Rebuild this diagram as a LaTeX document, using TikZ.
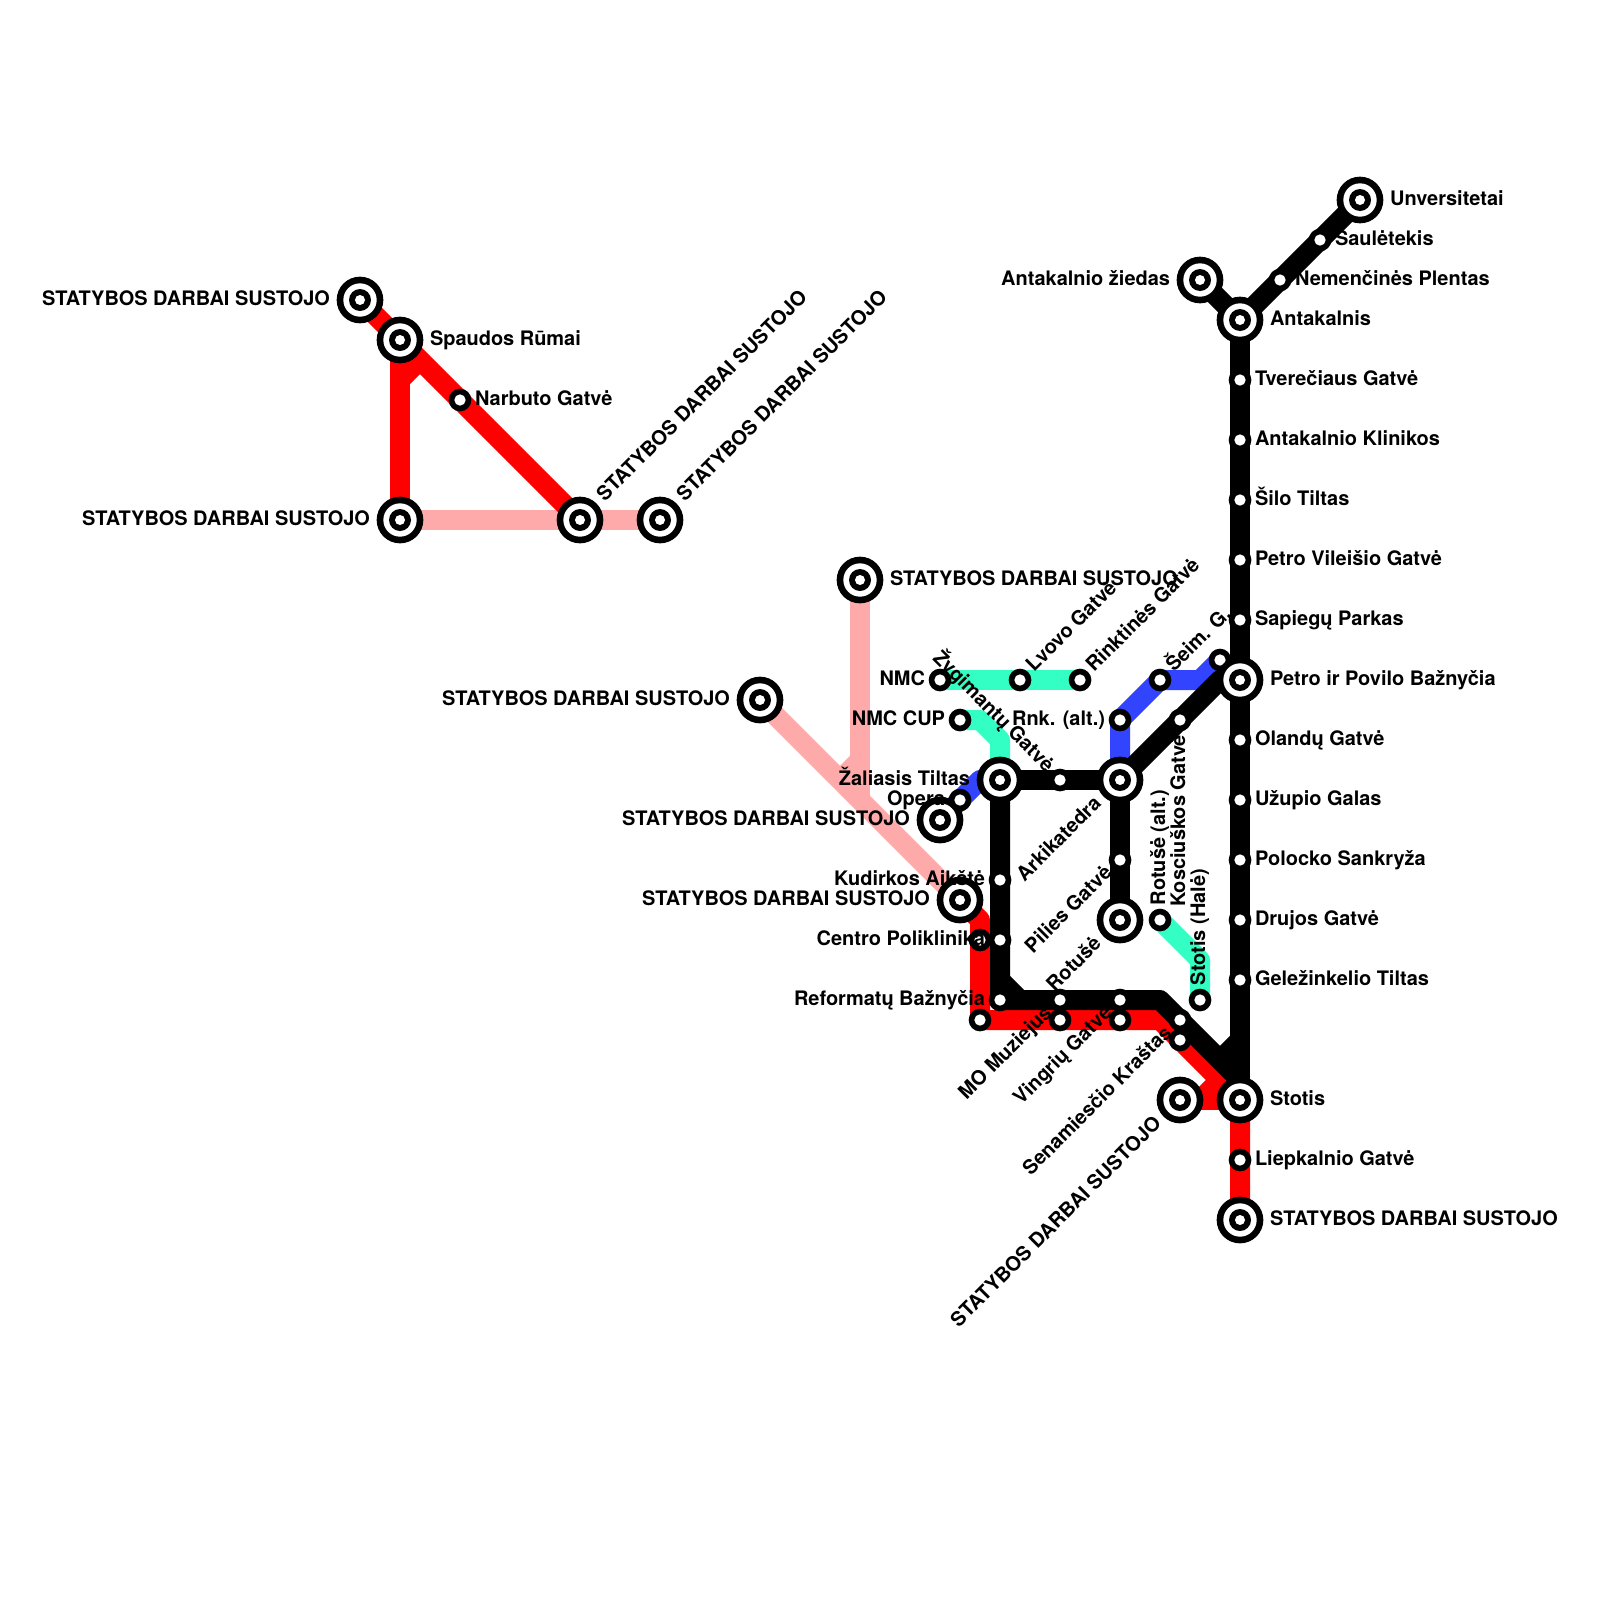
\documentclass[tikz,border=0pt]{standalone}
\usepackage{fontspec}
\setmainfont{TeX Gyre Heros}
\usetikzlibrary{backgrounds}
\tikzset{
  x=0.025cm,y=-0.025cm,
  ringbase/.style={circle,fill=black,draw=none,inner sep=0pt,outer sep=0pt},
  smallst/.style={ringbase,minimum size=16.15pt,
    path picture={\fill[white] (path picture bounding box.center) circle (4.03pt);}},
  bigst/.style={ringbase,minimum size=33.2pt,
    path picture={\fill[white] (path picture bounding box.center) circle (11.86pt);
      \fill[black] (path picture bounding box.center) circle (7.82pt);
      \fill[white] (path picture bounding box.center) circle (3.56pt);}},
  lbl/.style={font=\fontsize{14.2pt}{16pt}\selectfont\bfseries,text=black,inner sep=0pt,outer sep=0pt},
  metro/.style={line width=14.23pt,line join=round,line cap=butt},
  redl/.style={metro,draw=lred},
  pinkl/.style={metro,draw=lpink},
  greenl/.style={metro,draw=lgreen},
  bluel/.style={metro,draw=lblue},
  blackl/.style={metro,draw=black},
}
\definecolor{lred}{HTML}{FF0000}
\definecolor{lpink}{HTML}{FFAAAA}
\definecolor{lgreen}{HTML}{33FFC4}
\definecolor{lblue}{HTML}{3344FF}
\newcommand{\sts}[3]{\node[smallst] (#1) at (#2,#3) {};}
\newcommand{\stb}[3]{\node[bigst] (#1) at (#2,#3) {};}
% name, station, angle, anchor, signed distance, text
\newcommand{\lab}[6]{\path (#2.center) ++({-(#3)}:#5) ++({90-(#3)}:5) node[lbl,rotate=#3,anchor=base #4] (#1) {#6};}
\newcommand{\sd}{STATYBOS DARBAI SUSTOJO}
\begin{document}
\begin{tikzpicture}
\path[use as bounding box] (0,0) rectangle (1600,1600);
% stations: left group
\stb{a1}{360}{300}\stb{a2}{400}{340}\sts{a3}{460}{400}\stb{a4}{400}{520}\stb{a5}{580}{520}\stb{a6}{660}{520}
% pink
\stb{p1}{860}{580}\stb{p2}{760}{700}\stb{p3}{960}{900}
% green
\sts{g1}{940}{680}\sts{g2}{1020}{680}\sts{g3}{1080}{680}\sts{g4}{960}{720}\sts{g5}{1160}{920}\sts{g6}{1200}{1000}
% blue
\stb{b1}{940}{820}\sts{b2}{960}{800}\sts{b3}{1120}{720}\sts{b4}{1160}{680}\sts{b5}{1220}{660}
% black inner
\stb{k1}{1000}{780}\sts{k2}{1060}{780}\stb{k3}{1120}{780}\sts{k4}{1120}{860}\stb{k5}{1120}{920}
\sts{k6}{1000}{880}\sts{k7}{1000}{940}\sts{k8}{1000}{1000}\sts{k9}{1060}{1000}\sts{k10}{1120}{1000}\sts{k11}{1180}{1020}\sts{k12}{1180}{720}
% red lower
\sts{r1}{980}{940}\sts{r2}{980}{1020}\sts{r3}{1060}{1020}\sts{r4}{1120}{1020}\sts{r5}{1180}{1040}\stb{r6}{1180}{1100}\sts{r7}{1240}{1160}\stb{r8}{1240}{1220}
% main column
\stb{m0}{1240}{320}\sts{m1}{1240}{380}\sts{m2}{1240}{440}\sts{m3}{1240}{500}\sts{m4}{1240}{560}\sts{m5}{1240}{620}\stb{m6}{1240}{680}
\sts{m7}{1240}{740}\sts{m8}{1240}{800}\sts{m9}{1240}{860}\sts{m10}{1240}{920}\sts{m11}{1240}{980}\stb{m12}{1240}{1100}
\stb{n1}{1200}{280}\stb{n2}{1360}{200}\sts{n3}{1320}{240}\sts{n4}{1280}{280}
% bends
\coordinate (c1) at (400,380);\coordinate (c2) at (420,360);
\coordinate (c3) at (860,760);\coordinate (c4) at (840,780);\coordinate (c5) at (860,800);
\coordinate (c6) at (980,720);\coordinate (c7) at (1000,740);
\coordinate (c8) at (1200,960);
\coordinate (c9) at (980,780);
\coordinate (c11) at (1200,680);
\coordinate (c12) at (1000,980);\coordinate (c13) at (1020,1000);\coordinate (c14) at (1160,1000);
\coordinate (c15) at (1240,1080);\coordinate (c16) at (1240,1040);\coordinate (c17) at (1220,1060);
\coordinate (c18) at (1220,680);
\coordinate (c19) at (980,920);\coordinate (c20) at (1160,1020);\coordinate (c21) at (1240,1100);
\coordinate (c22) at (1200,1100);\coordinate (c23) at (1220,1080);
\begin{pgfonlayer}{background}
\fill[white] (0,0) rectangle (1600,1600);
\draw[pinkl] (a4.center) -- (a6.center);
\draw[pinkl] (p1.center) -- (c5);
\draw[pinkl] (c3) -- (c4);
\draw[pinkl] (p2.center) -- (p3.center);
\draw[redl] (a1.center) -- (a5.center);
\draw[redl] (a4.center) -- (a2.center);
\draw[redl] (c1) -- (c2);
\draw[redl] (p3.center) -- (c19) -- (r2.center) -- (c20) -- (c21) -- (r8.center);
\draw[redl] (r6.center) -- (c21);
\draw[redl] (c22) -- (c23);
\draw[greenl] (g1.center) -- (g3.center);
\draw[greenl] (g4.center) -- (c6) -- (c7) -- (k1.center);
\draw[greenl] (g5.center) -- (c8) -- (g6.center);
\draw[bluel] (b1.center) -- (c9) -- (k1.center);
\draw[bluel] (k3.center) -- (b3.center) -- (b4.center) -- (c11) -- (b5.center);
\draw[blackl] (n1.center) -- (m0.center) -- (n2.center);
\draw[blackl] (m0.center) -- (m12.center);
\draw[blackl] (c16) -- (c17);
\draw[blackl] (k3.center) -- (c18) -- (m6.center);
\draw[blackl] (k1.center) -- (k3.center) -- (k5.center);
\draw[blackl] (k1.center) -- (k8.center) -- (c14) -- (c15) -- (m12.center);
\draw[blackl] (c12) -- (c13);
\end{pgfonlayer}
% labels
\lab{t1}{a1}{0}{east}{-30}{\sd}
\lab{t2}{a2}{0}{west}{30}{Spaudos Rūmai}
\lab{t3}{a3}{0}{west}{15}{Narbuto Gatvė}
\lab{t4}{a4}{0}{east}{-30}{\sd}
\lab{t5}{a5}{45}{west}{30}{\sd}
\lab{t6}{a6}{45}{west}{30}{\sd}
\lab{t7}{p1}{0}{west}{30}{\sd}
\lab{t8}{p2}{0}{east}{-30}{\sd}
\lab{t9}{p3}{0}{east}{-30}{\sd}
\lab{t10}{g1}{0}{east}{-15}{NMC}
\lab{t11}{g2}{45}{west}{15}{Lvovo Gatvė}
\lab{t12}{g3}{45}{west}{15}{Rinktinės Gatvė}
\lab{t13}{g4}{0}{east}{-15}{NMC CUP}
\lab{t14}{g5}{90}{west}{15}{Rotušė (alt.)}
\lab{t15}{g6}{90}{west}{15}{Stotis (Halė)}
\lab{t16}{b1}{0}{east}{-30}{\sd}
\lab{t17}{b2}{0}{east}{-15}{Opera}
\lab{t18}{b3}{0}{east}{-15}{Rnk. (alt.)}
\lab{t19}{b4}{45}{west}{15}{Šeim. G.}
\lab{t20}{k1}{0}{east}{-30}{Žaliasis Tiltas}
\lab{t21}{k2}{-45}{east}{-15}{Žygimantų Gatvė}
\lab{t22}{k3}{45}{east}{-30}{Arkikatedra}
\lab{t23}{k4}{45}{east}{-15}{Pilies Gatvė}
\lab{t24}{k5}{45}{east}{-30}{Rotušė}
\lab{t25}{k6}{0}{east}{-15}{Kudirkos Aikštė}
\lab{t26}{k7}{0}{east}{-15}{Centro Poliklinika}
\lab{t27}{k8}{0}{east}{-15}{Reformatų Bažnyčia}
\lab{t28}{k9}{45}{east}{-15}{MO Muziejus}
\lab{t29}{k10}{45}{east}{-15}{Vingrių Gatvė}
\lab{t30}{k11}{45}{east}{-15}{Senamiesčio Kraštas}
\lab{t31}{k12}{90}{east}{-15}{Kosciuškos Gatvė}
\lab{t32}{r6}{45}{east}{-30}{\sd}
\lab{t33}{r7}{0}{west}{15}{Liepkalnio Gatvė}
\lab{t34}{r8}{0}{west}{30}{\sd}
\lab{t35}{m0}{0}{west}{30}{Antakalnis}
\lab{t36}{m1}{0}{west}{15}{Tverečiaus Gatvė}
\lab{t37}{m2}{0}{west}{15}{Antakalnio Klinikos}
\lab{t38}{m3}{0}{west}{15}{Šilo Tiltas}
\lab{t39}{m4}{0}{west}{15}{Petro Vileišio Gatvė}
\lab{t40}{m5}{0}{west}{15}{Sapiegų Parkas}
\lab{t41}{m6}{0}{west}{30}{Petro ir Povilo Bažnyčia}
\lab{t42}{m7}{0}{west}{15}{Olandų Gatvė}
\lab{t43}{m8}{0}{west}{15}{Užupio Galas}
\lab{t44}{m9}{0}{west}{15}{Polocko Sankryža}
\lab{t45}{m10}{0}{west}{15}{Drujos Gatvė}
\lab{t46}{m11}{0}{west}{15}{Geležinkelio Tiltas}
\lab{t47}{m12}{0}{west}{30}{Stotis}
\lab{t48}{n1}{0}{east}{-30}{Antakalnio žiedas}
\lab{t49}{n2}{0}{west}{30}{Unversitetai}
\lab{t50}{n3}{0}{west}{15}{Saulėtekis}
\lab{t51}{n4}{0}{west}{15}{Nemenčinės Plentas}
\end{tikzpicture}
\end{document}
